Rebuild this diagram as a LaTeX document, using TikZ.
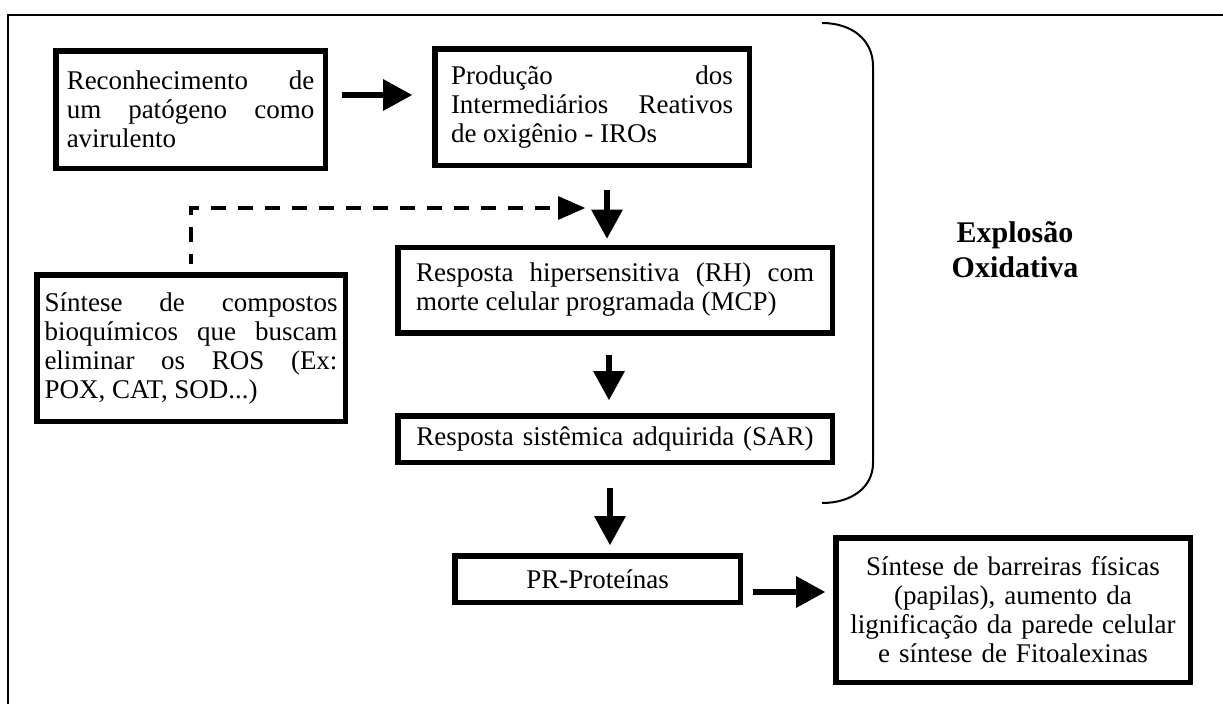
\documentclass[tikz,border=0pt]{standalone}
\usepackage{fontspec}
\setmainfont{Liberation Serif}
\usetikzlibrary{arrows.meta}
\newcommand\dgbody{\fontsize{27}{29}\selectfont}
\begin{document}
\begin{tikzpicture}[x=1pt,y=-1pt,
  box/.style={draw, line width=5.5pt, inner ysep=0pt, font=\dgbody,
    execute at begin node={\tolerance=10000\hyphenpenalty=10000\emergencystretch=20pt}},
  bigarrow/.style={line width=6pt, -{Triangle[length=29pt,width=32pt,line width=0pt]}},
  dashline/.style={line width=4pt, dash pattern=on 15pt off 12pt, dash phase=5pt,
    -{Triangle[length=27pt,width=24pt,line width=0pt]}},
  frame/.style={line width=2.5pt},
  bracket/.style={line width=2pt}
]
\useasboundingbox (0,0) rectangle (1223,704);
\draw[frame] (8,704) -- (8,15) -- (1223,15);

\node[box, text width=247.5pt, inner xsep=11pt, minimum height=117.5pt, align=justify] (b1) at (190.5,109.5)
  {Reconhecimento de\linebreak um patógeno como\linebreak avirulento};
\node[box, text width=282pt, inner xsep=16.25pt, minimum height=116.5pt, align=justify] (b2) at (592,107)
  {Produção dos\linebreak Intermediários Reativos\linebreak de oxigênio - IROs};
\node[box, text width=398pt, inner xsep=18.25pt, minimum height=85.5pt, align=justify] (rh) at (615,290)
  {Resposta hipersensitiva (RH) com\linebreak morte celular programada (MCP)};
\node[box, text width=404.5pt, inner xsep=15pt, minimum height=46.5pt, align=center] (sar) at (615,439)
  {Resposta sistêmica adquirida (SAR)};
\node[box, text width=265.5pt, inner xsep=10pt, minimum height=46.5pt, align=center] (pr) at (597.5,579)
  {PR-Proteínas};
\node[box, text width=334.5pt, inner xsep=10pt, minimum height=144.5pt, align=center] (syn) at (1013,610)
  {Síntese de barreiras físicas\\(papilas), aumento da\\lignificação da parede celular\\e síntese de Fitoalexinas};
\node[box, text width=293pt, inner xsep=7.75pt, minimum height=146.5pt, align=justify] (sc) at (191,348)
  {Síntese de compostos\linebreak bioquímicos que buscam\linebreak eliminar os ROS (Ex:\linebreak POX, CAT, SOD...)};
\node[font=\fontsize{30}{35}\selectfont\bfseries, align=center] (ex) at (1015,250) {Explosão\\Oxidativa};

\draw[bracket] (822,23) .. controls (852,23) and (873,40) .. (873,66) -- (873,463)
  .. controls (873,487) and (852,503) .. (822,503);

\draw[bigarrow, shorten <=14pt, shorten >=20pt] ([yshift=14.5pt]b1.east) -- ([yshift=14.5pt]b1.east -| b2.west);
\draw[bigarrow, shorten <=22pt, shorten >=6pt] ([xshift=-8pt]rh.north |- b2.south) -- ([xshift=-8pt]rh.north);
\draw[bigarrow, shorten <=19pt, shorten >=13pt] ([xshift=-6pt]rh.south) -- ([xshift=-6pt]sar.north);
\draw[bigarrow, shorten <=23pt, shorten >=8pt] ([xshift=-5pt]sar.south) -- ([xshift=-5pt]sar.south |- pr.north);
\draw[bigarrow, shorten <=10pt, shorten >=8pt] ([yshift=-13pt]pr.east) -- ([yshift=-13pt]pr.east -| syn.west);

\coordinate (dtip) at (585,208);
\coordinate (dcorner) at (sc.north |- dtip);
\draw[dashline] ([yshift=8pt]sc.north) -- (dcorner) -- (dtip);
\end{tikzpicture}
\end{document}
